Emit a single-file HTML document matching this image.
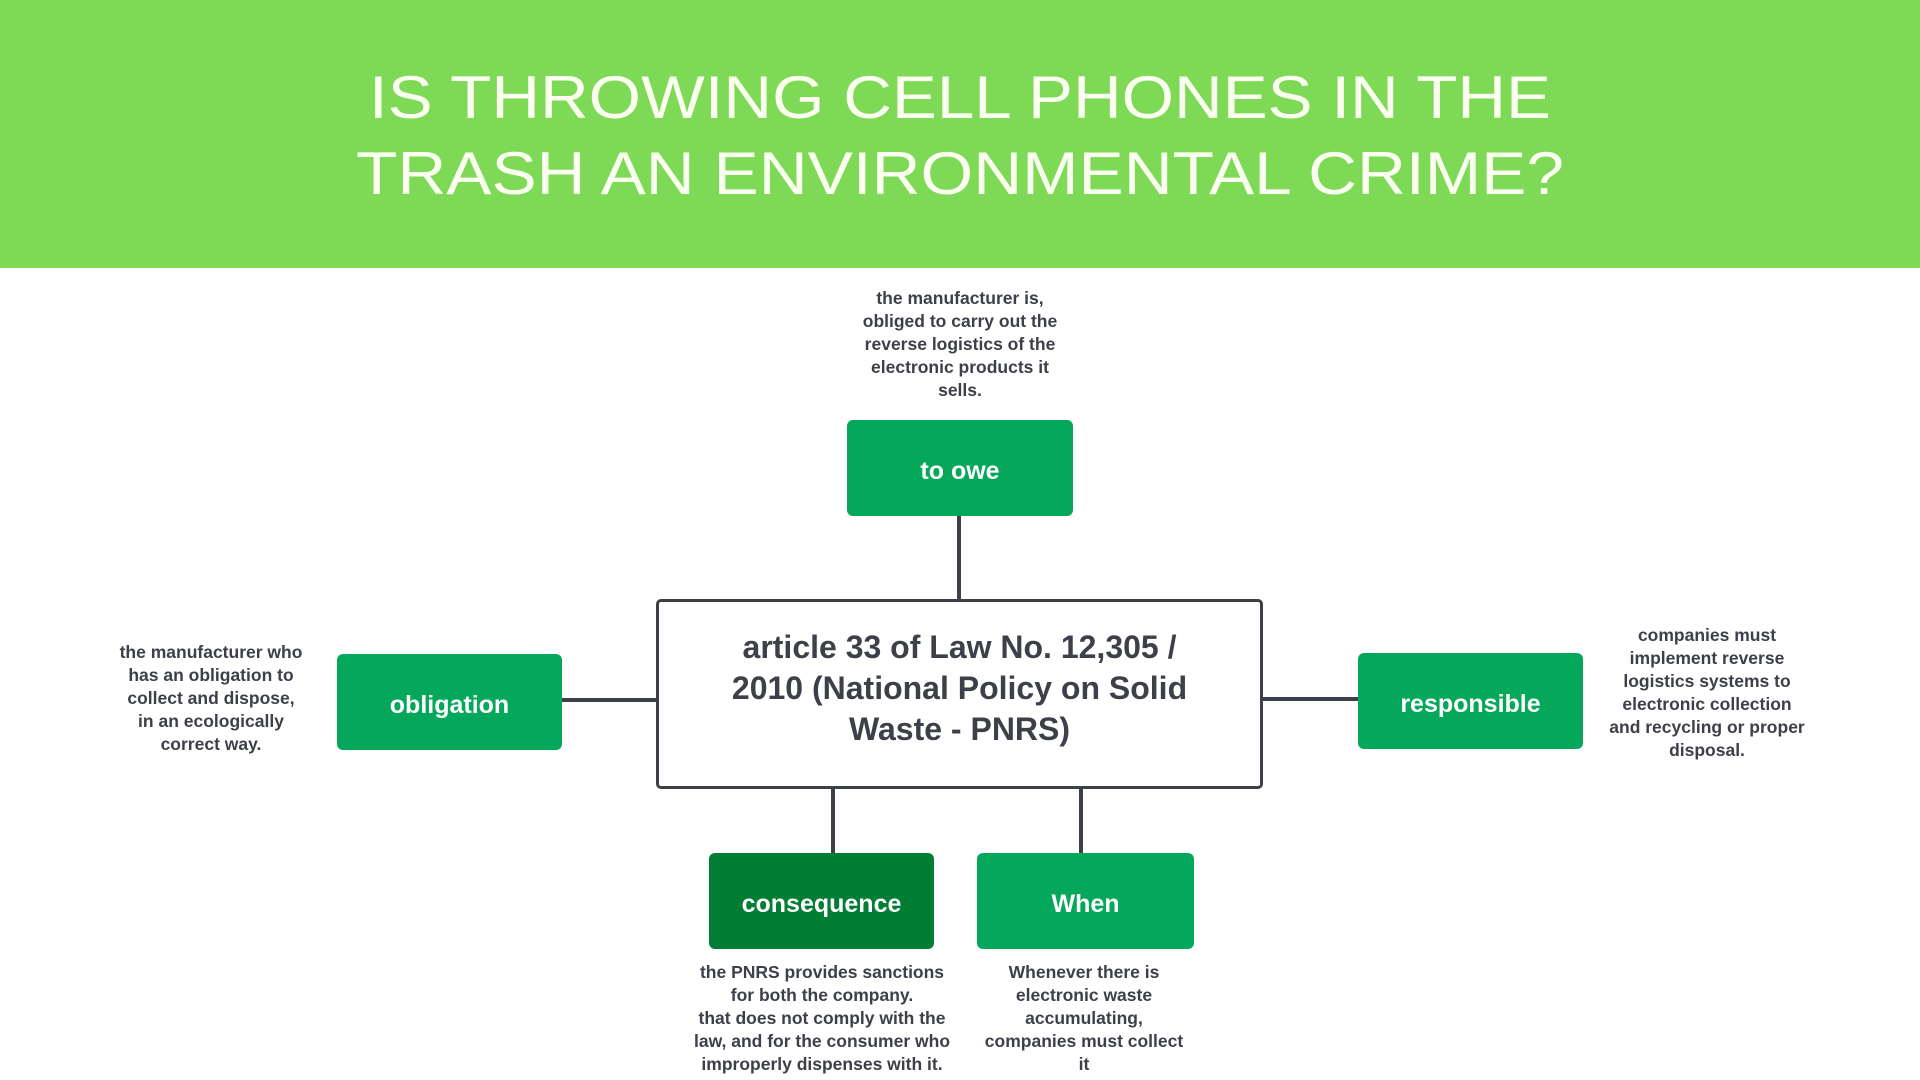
<!DOCTYPE html>
<html><head><meta charset="utf-8"><style>
html,body{margin:0;padding:0;width:1920px;height:1080px;background:#fff;overflow:hidden;font-family:"Liberation Sans",sans-serif}
.abs{position:absolute}
.box{position:absolute;border-radius:6px;background:#05a85b;color:#fff;font-weight:bold;font-size:25px;display:flex;align-items:center;justify-content:center;padding-top:6px;box-sizing:border-box}
.note{position:absolute;color:#3d4049;font-weight:bold;font-size:17.5px;line-height:23px;text-align:center;white-space:nowrap;transform:translateX(-50%)}
.ln{position:absolute;background:#3d4049}
</style></head><body>
<div class="abs" style="left:0;top:0;width:1920px;height:268px;background:#7ed957"></div>
<svg class="abs" style="left:0;top:0" width="1920" height="268">
<text x="960" y="118" text-anchor="middle" textLength="1182" lengthAdjust="spacingAndGlyphs" font-family="Liberation Sans, sans-serif" font-size="60" fill="#fafff0">IS THROWING CELL PHONES IN THE</text>
<text x="960" y="194" text-anchor="middle" textLength="1208" lengthAdjust="spacingAndGlyphs" font-family="Liberation Sans, sans-serif" font-size="60" fill="#fafff0">TRASH AN ENVIRONMENTAL CRIME?</text>
</svg>

<div class="ln" style="left:957px;top:516px;width:4px;height:84px"></div>
<div class="ln" style="left:562px;top:698px;width:95px;height:4px"></div>
<div class="ln" style="left:1263px;top:697px;width:95px;height:4px"></div>
<div class="ln" style="left:831px;top:789px;width:4px;height:64px"></div>
<div class="ln" style="left:1079px;top:789px;width:4px;height:64px"></div>

<div class="abs" style="left:656px;top:599px;width:601px;height:184px;border:3px solid #3d4049;border-radius:5px;background:#fff;display:flex;align-items:center;justify-content:center;text-align:center;color:#3d4049;font-weight:bold;font-size:32px;line-height:41px;box-sizing:content-box"><div style="margin-top:-12px">article 33 of Law No. 12,305 /<br>2010 (National Policy on Solid<br>Waste - PNRS)</div></div>

<div class="box" style="left:847px;top:420px;width:226px;height:96px">to owe</div>
<div class="box" style="left:337px;top:654px;width:225px;height:96px">obligation</div>
<div class="box" style="left:1358px;top:653px;width:225px;height:96px">responsible</div>
<div class="box" style="left:709px;top:853px;width:225px;height:96px;background:#017d34">consequence</div>
<div class="box" style="left:977px;top:853px;width:217px;height:96px">When</div>

<div class="note" style="left:960px;top:287px">the manufacturer is,<br>obliged to carry out the<br>reverse logistics of the<br>electronic products it<br>sells.</div>
<div class="note" style="left:211px;top:641px">the manufacturer who<br>has an obligation to<br>collect and dispose,<br>in an ecologically<br>correct way.</div>
<div class="note" style="left:1707px;top:624px">companies must<br>implement reverse<br>logistics systems to<br>electronic collection<br>and recycling or proper<br>disposal.</div>
<div class="note" style="left:822px;top:961px">the PNRS provides sanctions<br>for both the company.<br>that does not comply with the<br>law, and for the consumer who<br>improperly dispenses with it.</div>
<div class="note" style="left:1084px;top:961px">Whenever there is<br>electronic waste<br>accumulating,<br>companies must collect<br>it</div>
</body></html>
